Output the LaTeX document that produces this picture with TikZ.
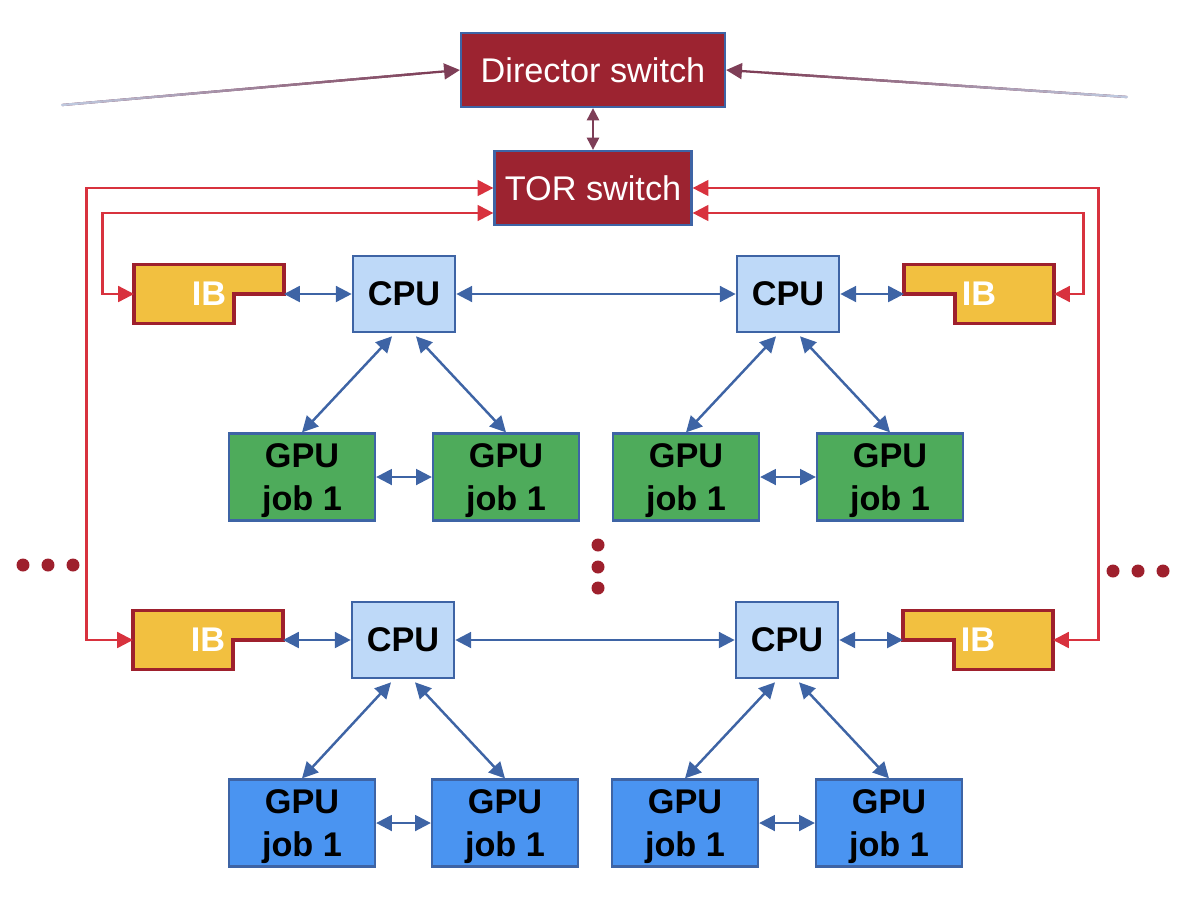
\documentclass[tikz,border=0pt]{standalone}
\usepackage{fontspec}
\setmainfont{Liberation Sans}
\usepackage{tikz}
\usetikzlibrary{
    positioning,
    arrows.meta,
    calc,
    backgrounds
}
\definecolor{switchRed}{RGB}{156, 35, 48}
\definecolor{edgeBlue}{RGB}{62, 100, 165}
\definecolor{cpuBlue}{RGB}{190, 217, 248}
\definecolor{gpuGreen}{RGB}{78, 171, 91}
\definecolor{gpuBlue}{RGB}{74, 148, 241}
\definecolor{ibGold}{RGB}{242, 192, 64}
\definecolor{ibRed}{RGB}{158, 32, 45}
\definecolor{linkRed}{RGB}{216, 50, 62}
\definecolor{linkMauve}{RGB}{126, 62, 87}
\definecolor{fadeGray}{RGB}{190, 200, 222}
\newcommand{\diagfont}{\fontsize{19.5}{24.5}\selectfont}

\begin{document}
\begin{tikzpicture}[x=0.02cm, y=-0.02cm,
    switchbox/.style={draw=edgeBlue, line width=1.3pt, fill=switchRed, text=white,
        minimum height=1.48cm, inner sep=0pt, font=\diagfont},
    cpubox/.style={draw=edgeBlue, line width=1.5pt, fill=cpuBlue,
        minimum width=2.04cm, minimum height=1.52cm, inner sep=0pt, font=\diagfont\bfseries},
    gpubox/.style={draw=edgeBlue, line width=1.3pt, align=center, text depth=0pt,
        minimum width=2.92cm, minimum height=1.74cm, inner sep=0pt, font=\diagfont\bfseries},
    ibbox/.style={minimum width=3cm, minimum height=1.18cm, inner sep=0pt, outer sep=0pt,
        text=white, font=\diagfont\bfseries},
    ibshape/.style={draw=ibRed, line width=1.8pt, fill=ibGold},
    bilink/.style={{Triangle[length=9pt,width=9pt]}-{Triangle[length=9pt,width=9pt]},
        draw=edgeBlue, line width=1.4pt},
    redlink/.style={{Triangle[length=9pt,width=9pt]}-{Triangle[length=9pt,width=9pt]},
        draw=linkRed, line width=1.3pt},
]
    \useasboundingbox (0,0) rectangle (1182,904);

    % switches
    \node[switchbox, minimum width=5.28cm] (Dir) at (593,70) {Director switch};
    \node[switchbox, minimum width=3.94cm] (TOR) at (593,188) {TOR switch};

    % upper node
    \node[ibbox] (I1) at (209,294) {IB};
    \node[cpubox] (C1) at (404,294) {CPU};
    \node[cpubox] (C2) at (788,294) {CPU};
    \node[ibbox] (I2) at (979,294) {IB};
    \node[gpubox, fill=gpuGreen] (G1) at (302,477) {GPU\\job 1};
    \node[gpubox, fill=gpuGreen] (G2) at (506,477) {GPU\\job 1};
    \node[gpubox, fill=gpuGreen] (G3) at (686,477) {GPU\\job 1};
    \node[gpubox, fill=gpuGreen] (G4) at (890,477) {GPU\\job 1};

    % lower node
    \node[ibbox] (I3) at (208,640) {IB};
    \node[cpubox] (C3) at (403,640) {CPU};
    \node[cpubox] (C4) at (787,640) {CPU};
    \node[ibbox] (I4) at (978,640) {IB};
    \node[gpubox, fill=gpuBlue] (G5) at (302,823) {GPU\\job 1};
    \node[gpubox, fill=gpuBlue] (G6) at (505,823) {GPU\\job 1};
    \node[gpubox, fill=gpuBlue] (G7) at (685,823) {GPU\\job 1};
    \node[gpubox, fill=gpuBlue] (G8) at (889,823) {GPU\\job 1};

    % IB outlines
    \begin{scope}[on background layer]
        \foreach \n in {I1, I3}
            \draw[ibshape] (\n.north west) -- (\n.north east) -- (\n.east)
                -- ($(\n.east)+(-50,0)$) -- ($(\n.south east)+(-50,0)$)
                -- (\n.south west) -- cycle;
        \foreach \n in {I2, I4}
            \draw[ibshape] (\n.north west) -- (\n.north east) -- (\n.south east)
                -- ($(\n.south west)+(51,0)$) -- ($(\n.west)+(51,0)$)
                -- (\n.west) -- cycle;
    \end{scope}

    % uplinks into the director switch
    \coordinate (L) at (62,105);
    \coordinate (R) at (1127,97);
    \draw[-{Triangle[length=9pt,width=9pt]}, linkMauve, line width=1.3pt] (L) -- (Dir.west);
    \draw[-{Triangle[length=9pt,width=9pt]}, linkMauve, line width=1.3pt] (R) -- (Dir.east);
    \foreach \i [evaluate=\i as \p using int(\i*100/18)] in {0,...,17} {
        \draw[linkMauve!\p!fadeGray, line width=1.3pt, line cap=round]
            ($(L)!{\i/20}!(Dir.west)$) -- ($(L)!{(\i+1)/20}!(Dir.west)$);
        \draw[linkMauve!\p!fadeGray, line width=1.3pt, line cap=round]
            ($(R)!{\i/20}!(Dir.east)$) -- ($(R)!{(\i+1)/20}!(Dir.east)$);
    }
    \draw[{Triangle[length=7pt,width=7pt]}-{Triangle[length=7pt,width=7pt]},
        linkMauve, line width=1.2pt] (Dir.south) -- (TOR.north);

    % TOR cabling
    \draw[redlink] (TOR.west) -- ++(-407,0) |- (I3.west);
    \draw[redlink] ($(TOR.west)+(0,25)$) -- ++(-391,0) |- (I1.west);
    \draw[redlink] (TOR.east) -- ++(406,0) |- (I4.east);
    \draw[redlink] ($(TOR.east)+(0,25)$) -- ++(391,0) |- (I2.east);

    % links inside each node
    \draw[bilink] (I1.east) -- (C1.west);
    \draw[bilink] (C1.east) -- (C2.west);
    \draw[bilink] (C2.east) -- (I2.west);
    \draw[bilink] (I3.east) -- (C3.west);
    \draw[bilink] (C3.east) -- (C4.west);
    \draw[bilink] (C4.east) -- (I4.west);
    \draw[bilink] ($(C1.south)+(-12,3)$) -- (G1.north);
    \draw[bilink] ($(C1.south)+(12,3)$) -- (G2.north);
    \draw[bilink] ($(C2.south)+(-12,3)$) -- (G3.north);
    \draw[bilink] ($(C2.south)+(12,3)$) -- (G4.north);
    \draw[bilink] ($(C3.south)+(-12,3)$) -- (G5.north);
    \draw[bilink] ($(C3.south)+(12,3)$) -- (G6.north);
    \draw[bilink] ($(C4.south)+(-12,3)$) -- (G7.north);
    \draw[bilink] ($(C4.south)+(12,3)$) -- (G8.north);
    \draw[bilink] (G1.east) -- (G2.west);
    \draw[bilink] (G3.east) -- (G4.west);
    \draw[bilink] (G5.east) -- (G6.west);
    \draw[bilink] (G7.east) -- (G8.west);

    % more nodes
    \foreach \x in {23,48,73} \fill[ibRed] (\x,565) circle (0.13cm);
    \foreach \x in {1113,1138,1163} \fill[ibRed] (\x,571) circle (0.13cm);
    \foreach \y in {545,567,588} \fill[ibRed] (598,\y) circle (0.13cm);
\end{tikzpicture}
\end{document}
